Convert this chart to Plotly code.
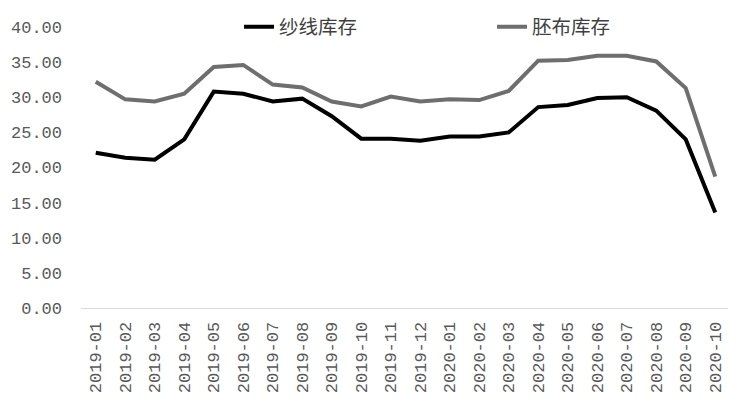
import plotly.graph_objects as go

months = ["2019-01","2019-02","2019-03","2019-04","2019-05","2019-06","2019-07","2019-08",
          "2019-09","2019-10","2019-11","2019-12","2020-01","2020-02","2020-03","2020-04",
          "2020-05","2020-06","2020-07","2020-08","2020-09","2020-10"]
yarn = [22.1, 21.4, 21.1, 24.0, 30.8, 30.5, 29.4, 29.8, 27.3, 24.1, 24.1, 23.8,
        24.4, 24.4, 25.0, 28.6, 28.9, 29.9, 30.0, 28.1, 24.0, 13.6]
greige = [32.2, 29.7, 29.4, 30.5, 34.3, 34.6, 31.8, 31.4, 29.4, 28.7, 30.1, 29.4,
          29.7, 29.6, 30.9, 35.2, 35.3, 35.9, 35.9, 35.1, 31.3, 18.7]
yticks = [0, 5, 10, 15, 20, 25, 30, 35, 40]

cjk = "Noto Sans CJK SC"
mono = "Liberation Mono"

fig = go.Figure()
fig.add_trace(go.Scatter(x=months, y=yarn, mode="lines", name="纱线库存",
                         line=dict(color="#000000", width=4)))
fig.add_trace(go.Scatter(x=months, y=greige, mode="lines", name="胚布库存",
                         line=dict(color="#6e6e6e", width=4)))

# page body has an 8px default margin, so the figure is sized to fit the window
fig.update_layout(
    width=728, height=391,
    margin=dict(l=73, r=6, t=19, b=91, autoexpand=False),
    paper_bgcolor="white", plot_bgcolor="white",
    font=dict(family=cjk, color="#595959", size=15),
    showlegend=True,
    legend=dict(orientation="h", x=0.2435, xanchor="left", y=1.0, yanchor="middle",
                entrywidth=208, entrywidthmode="pixels",
                font=dict(size=19.5, color="#404040", family=cjk),
                bgcolor="rgba(0,0,0,0)"),
)
fig.update_xaxes(type="category", range=[-0.5, len(months) - 0.5], showgrid=False,
                 showline=True, linecolor="#d9d9d9", linewidth=1, ticks="",
                 tickangle=-90, ticklabelstandoff=6, automargin=False,
                 tickfont=dict(size=17, color="#595959", family=mono))
fig.update_yaxes(range=[0, 40], tickvals=yticks, tickformat=".2f", showgrid=False,
                 zeroline=False, showline=False, ticks="", ticklabelstandoff=18,
                 automargin=False,
                 tickfont=dict(size=17, color="#595959", family=mono))

fig.write_html("out.html")
